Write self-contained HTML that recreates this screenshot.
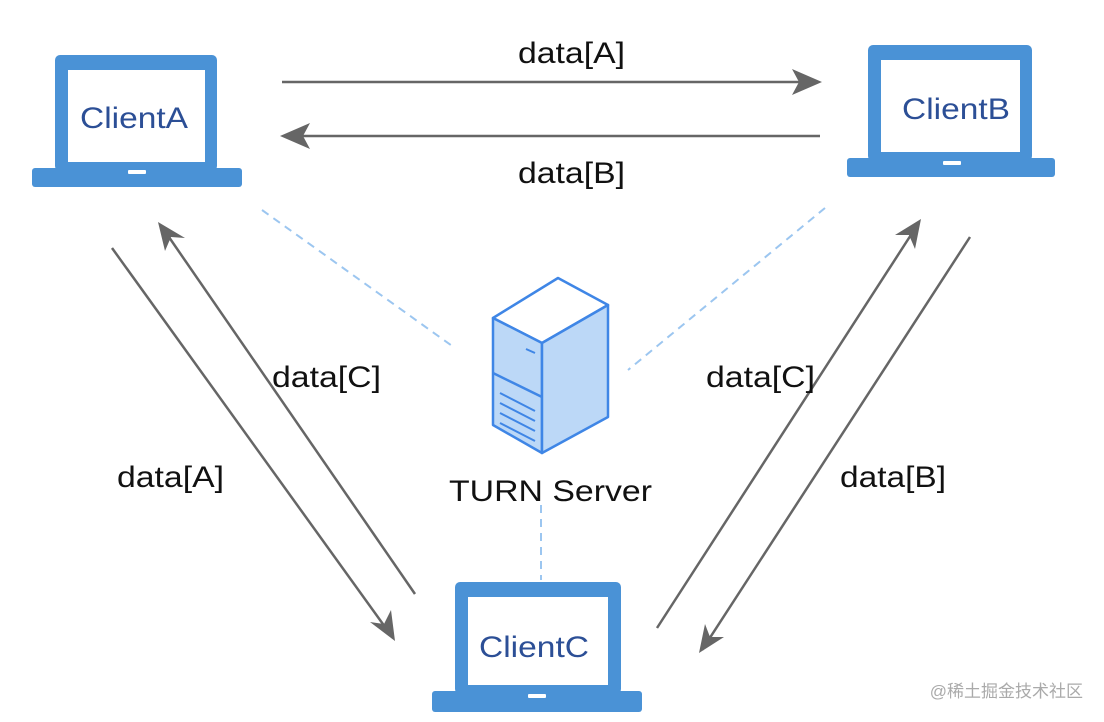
<!DOCTYPE html>
<html><head><meta charset="utf-8"><style>
html,body{margin:0;padding:0;background:#fff;}
svg{display:block;}
</style></head><body>
<svg width="1104" height="722" viewBox="0 0 1104 722" xmlns="http://www.w3.org/2000/svg">
<g stroke="#666" stroke-width="2.5" fill="none">
<path d="M282,82 L818,82"/>
<path d="M820,136 L284,136"/>
<path d="M112,248 L393,638"/>
<path d="M415,594 L162,227"/>
<path d="M657,628 L918,224"/>
<path d="M970,237 L702,650"/>
</g>
<g fill="#666">
<path d="M822,82 L792,69 L799,82 L792,95 z"/>
<path d="M280,136 L310,123 L303,136 L310,149 z"/>
<path d="M395,641 L370,622 L384,624 L391,610 z"/>
<path d="M158,222 L185,238 L171,237 L165,251 z"/>
<path d="M921,219 L895,235 L909,235 L915,249 z"/>
<path d="M699,653 L705,624 L710,637 L724,637 z"/>
</g>
<g stroke="#9cc6f0" stroke-width="2" stroke-dasharray="8,6" fill="none">
<path d="M262,210 L455,348"/>
<path d="M825,208 L628,370"/>
<path d="M541,505 L541,580"/>
</g>
<g stroke="#3f86e6" stroke-width="2.5" stroke-linejoin="round">
<path d="M493,318 L558,278 L608,305 L542,343 z" fill="#fff"/>
<path d="M493,318 L542,343 L542,453 L493,425 z" fill="#bcd8f7"/>
<path d="M542,343 L608,305 L608,417 L542,453 z" fill="#bcd8f7"/>
<path d="M493,373 L542,397" fill="none"/>
<path d="M526,349 L535,353 M500,393 L535,411 M500,403 L535,421 M500,413 L535,431 M500,423 L535,441" fill="none" stroke-width="2"/>
</g>
<text x="449" y="501" textLength="203" lengthAdjust="spacingAndGlyphs" font-family="Liberation Sans, sans-serif" font-size="30" fill="#111">TURN Server</text>
<g fill="#4a92d6">
<rect x="55" y="55" width="162" height="116" rx="5"/>
<rect x="32" y="168" width="210" height="19" rx="3"/>
<rect x="868" y="45" width="164" height="116" rx="5"/>
<rect x="847" y="158" width="208" height="19" rx="3"/>
<rect x="455" y="582" width="166" height="112" rx="5"/>
<rect x="432" y="691" width="210" height="21" rx="3"/>
</g>
<g fill="#fff">
<rect x="68" y="70" width="137" height="92"/>
<rect x="128" y="170" width="18" height="4" rx="1"/>
<rect x="881" y="60" width="139" height="92"/>
<rect x="943" y="161" width="18" height="4" rx="1"/>
<rect x="468" y="597" width="140" height="88"/>
<rect x="528" y="694" width="18" height="4" rx="1"/>
</g>
<g font-family="Liberation Sans, sans-serif" font-size="30" fill="#2c4f96" lengthAdjust="spacingAndGlyphs">
<text x="80" y="128" textLength="108" lengthAdjust="spacingAndGlyphs">ClientA</text>
<text x="902" y="119" textLength="108" lengthAdjust="spacingAndGlyphs">ClientB</text>
<text x="479" y="657" textLength="110" lengthAdjust="spacingAndGlyphs">ClientC</text>
</g>
<g font-family="Liberation Sans, sans-serif" font-size="30" fill="#111">
<text x="518" y="63" textLength="107" lengthAdjust="spacingAndGlyphs">data[A]</text>
<text x="518" y="183" textLength="107" lengthAdjust="spacingAndGlyphs">data[B]</text>
<text x="272" y="387" textLength="109" lengthAdjust="spacingAndGlyphs">data[C]</text>
<text x="117" y="487" textLength="107" lengthAdjust="spacingAndGlyphs">data[A]</text>
<text x="706" y="387" textLength="109" lengthAdjust="spacingAndGlyphs">data[C]</text>
<text x="840" y="487" textLength="106" lengthAdjust="spacingAndGlyphs">data[B]</text>
</g>
<text x="1083" y="697" text-anchor="end" font-family="Liberation Sans, Noto Sans CJK SC, sans-serif" font-size="17" fill="#aaa">@稀土掘金技术社区</text>
</svg>
</body></html>
